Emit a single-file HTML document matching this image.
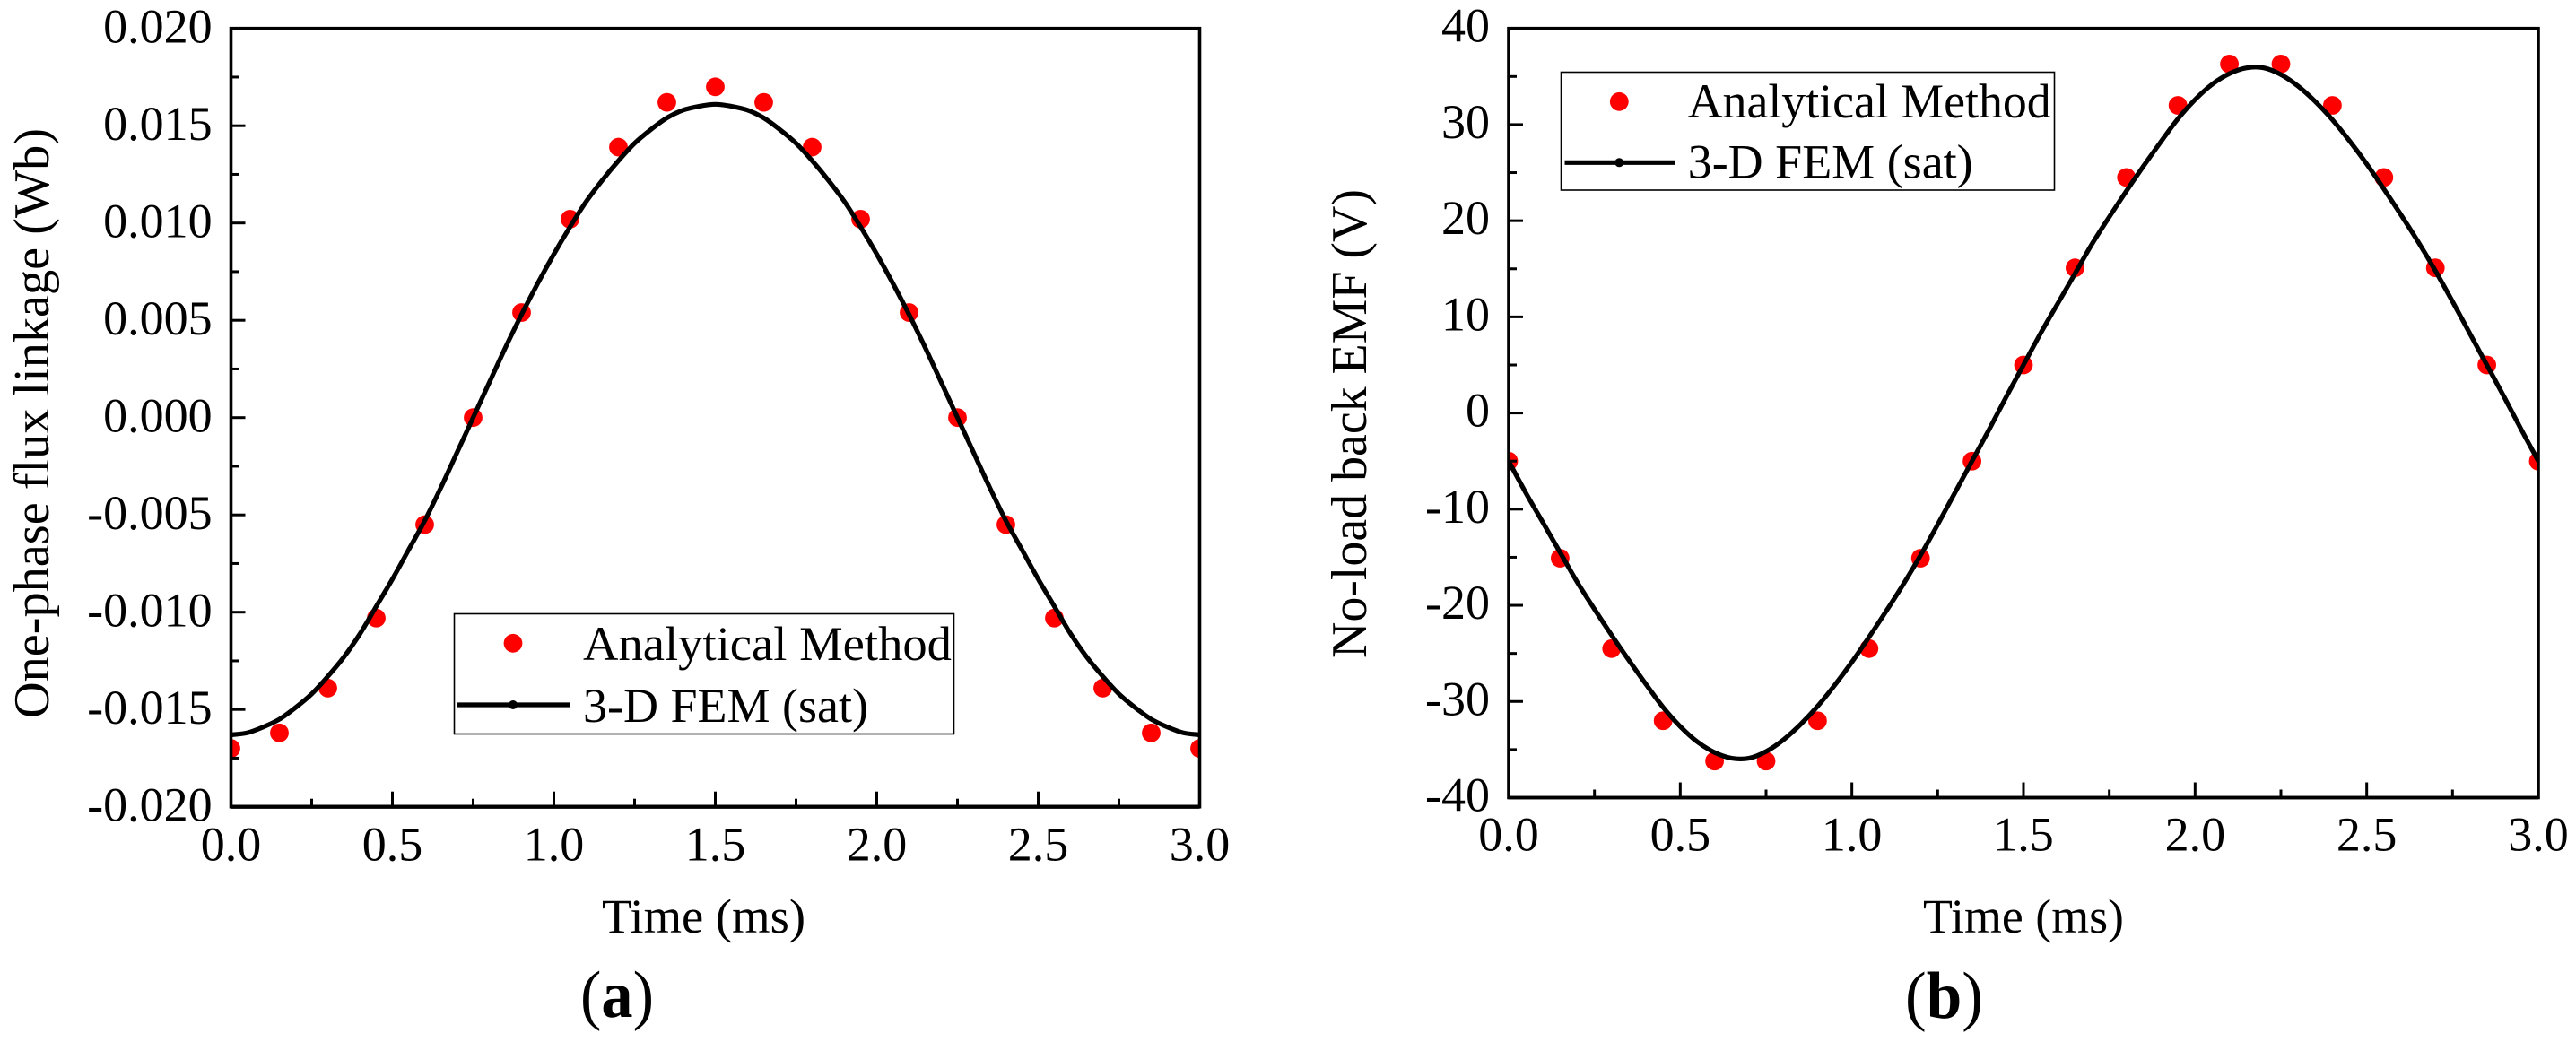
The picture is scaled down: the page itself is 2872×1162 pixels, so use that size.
<!DOCTYPE html>
<html lang="en">
<head>
<meta charset="utf-8">
<title>Flux linkage and back EMF charts</title>
<style>
  html, body { margin: 0; padding: 0; background: #fff; }
  svg { display: block; }
  text { font-family: "Liberation Serif", "Times New Roman", serif; fill: #000; }
</style>
</head>
<body>
<svg id="figure" xmlns="http://www.w3.org/2000/svg" width="2872" height="1162" viewBox="0 0 2872 1162">
  <rect x="0" y="0" width="2872" height="1162" fill="#fff"/>
  <g id="panel-a"></g>
  <g id="panel-b"></g>

  <text transform="translate(54 801) rotate(-90)" font-size="56" textLength="658" lengthAdjust="spacingAndGlyphs">One-phase flux linkage (Wb)</text>
  <text x="671" y="1040" font-size="54" textLength="227" lengthAdjust="spacingAndGlyphs">Time (ms)</text>
  <text x="647" y="1134" font-size="74" textLength="82" lengthAdjust="spacingAndGlyphs">(<tspan font-weight="bold">a</tspan>)</text>

  <g>
    <rect x="506.5" y="684.5" width="557" height="134" fill="#fff" stroke="#000" stroke-width="1.6"/>
    <circle cx="572" cy="717.3" r="10.4" fill="#f00"/>
    <text x="650" y="736" font-size="54" textLength="411" lengthAdjust="spacingAndGlyphs">Analytical Method</text>
    <line x1="510" y1="786" x2="635" y2="786" stroke="#000" stroke-width="5.2"/>
    <circle cx="572" cy="786" r="5" fill="#000"/>
    <text x="650" y="805" font-size="54">3-D FEM (sat)</text>
  </g>

  <text transform="translate(1523 734) rotate(-90)" font-size="56" textLength="523" lengthAdjust="spacingAndGlyphs">No-load back EMF (V)</text>
  <text x="2144" y="1040" font-size="54" textLength="224" lengthAdjust="spacingAndGlyphs">Time (ms)</text>
  <text x="2124" y="1135" font-size="74" textLength="87" lengthAdjust="spacingAndGlyphs">(<tspan font-weight="bold">b</tspan>)</text>

  <g>
    <rect x="1740.5" y="80.5" width="550" height="131.5" fill="#fff" stroke="#000" stroke-width="1.6"/>
    <circle cx="1805.3" cy="113.3" r="10.4" fill="#f00"/>
    <text x="1881.7" y="131" font-size="54" textLength="405" lengthAdjust="spacingAndGlyphs">Analytical Method</text>
    <line x1="1744.5" y1="181.3" x2="1868" y2="181.3" stroke="#000" stroke-width="5.2"/>
    <circle cx="1805.3" cy="181.3" r="5" fill="#000"/>
    <text x="1881.7" y="198.7" font-size="54">3-D FEM (sat)</text>
  </g>
</svg>

<script>
// ---- shared x axis ----
var xTicks = [0, 0.5, 1, 1.5, 2, 2.5, 3];
var xTickLabels = ["0.0", "0.5", "1.0", "1.5", "2.0", "2.5", "3.0"];
var xDots = [0, 0.15, 0.3, 0.45, 0.6, 0.75, 0.9, 1.05, 1.2, 1.35, 1.5, 1.65, 1.8, 1.95, 2.1, 2.25, 2.4, 2.55, 2.7, 2.85, 3];
var xLine = [0, 0.05, 0.1, 0.15, 0.2, 0.25, 0.3, 0.35, 0.4, 0.45, 0.5, 0.55, 0.6, 0.65, 0.7, 0.75, 0.8, 0.85, 0.9, 0.95,
             1, 1.05, 1.1, 1.15, 1.2, 1.25, 1.3, 1.35, 1.4, 1.45, 1.5, 1.55, 1.6, 1.65, 1.7, 1.75, 1.8, 1.85, 1.9, 1.95,
             2, 2.05, 2.1, 2.15, 2.2, 2.25, 2.3, 2.35, 2.4, 2.45, 2.5, 2.55, 2.6, 2.65, 2.7, 2.75, 2.8, 2.85, 2.9, 2.95, 3];

// ---- panel a: flux linkage ----
var yTicksA = [0.02, 0.015, 0.01, 0.005, 0, -0.005, -0.01, -0.015, -0.02];
var yTickLabelsA = ["0.020", "0.015", "0.010", "0.005", "0.000", "-0.005", "-0.010", "-0.015", "-0.020"];
var analyticalA = [-0.017, -0.0162, -0.0139, -0.0103, -0.0055, 0, 0.0054, 0.0102, 0.0139, 0.0162, 0.017,
                   0.0162, 0.0139, 0.0102, 0.0054, 0, -0.0055, -0.0103, -0.0139, -0.0162, -0.017];
var femA = [-0.0163, -0.0162, -0.0159, -0.0155, -0.0149, -0.0142, -0.0133, -0.0123, -0.0111, -0.0097, -0.0083, -0.0068, -0.0053, -0.0036, -0.0018,
            0, 0.0018, 0.0036, 0.0053, 0.0069, 0.0084, 0.0098, 0.0111, 0.0122, 0.0132, 0.0141, 0.0148, 0.0154, 0.0158, 0.016,
            0.0161,
            0.016, 0.0158, 0.0154, 0.0148, 0.0141, 0.0132, 0.0122, 0.0111, 0.0098, 0.0084, 0.0069, 0.0053, 0.0036, 0.0018,
            0, -0.0018, -0.0036, -0.0053, -0.0068, -0.0083, -0.0097, -0.0111, -0.0123, -0.0133, -0.0142, -0.0149, -0.0155, -0.0159, -0.0162, -0.0163];

// ---- panel b: back EMF ----
var yTicksB = [40, 30, 20, 10, 0, -10, -20, -30, -40];
var yTickLabelsB = ["40", "30", "20", "10", "0", "-10", "-20", "-30", "-40"];
var analyticalB = [-5, -15.1, -24.5, -32, -36.2, -36.2, -32, -24.5, -15.1, -5, 5,
                   15.1, 24.5, 32, 36.3, 36.3, 32, 24.5, 15.1, 5, -5];
var femB = [-5, -8.3, -11.4, -14.5, -17.6, -20.4, -23.1, -25.7, -28.2, -30.6, -32.6, -34.2, -35.3, -35.9, -35.9,
            -35.2, -34, -32.4, -30.5, -28.3, -25.9, -23.3, -20.6, -17.8, -14.8, -11.6, -8.3, -5, -1.7, 1.7,
            5, 8.3, 11.4, 14.5, 17.6, 20.4, 23.1, 25.7, 28.2, 30.6, 32.6, 34.2, 35.3, 35.9, 35.9,
            35.2, 34, 32.4, 30.5, 28.3, 25.9, 23.3, 20.6, 17.8, 14.8, 11.6, 8.3, 5, 1.7, -1.7, -5];

var SVGNS = "http://www.w3.org/2000/svg";

function make(tag, parent, attrs) {
  var el = document.createElementNS(SVGNS, tag);
  for (var k in attrs) el.setAttribute(k, attrs[k]);
  parent.appendChild(el);
  return el;
}

function smoothPath(px) {
  var d = "M" + px[0][0].toFixed(2) + " " + px[0][1].toFixed(2);
  for (var i = 0; i < px.length - 1; i++) {
    var p0 = px[Math.max(0, i - 1)], p1 = px[i], p2 = px[i + 1], p3 = px[Math.min(px.length - 1, i + 2)];
    d += "C" + (p1[0] + (p2[0] - p0[0]) / 6).toFixed(2) + " " + (p1[1] + (p2[1] - p0[1]) / 6).toFixed(2) + " " +
         (p2[0] - (p3[0] - p1[0]) / 6).toFixed(2) + " " + (p2[1] - (p3[1] - p1[1]) / 6).toFixed(2) + " " +
         p2[0].toFixed(2) + " " + p2[1].toFixed(2);
  }
  return d;
}

function drawPanel(g, id, box, yTicks, yLabels, dots, line) {
  var yMax = yTicks[0], yMin = yTicks[yTicks.length - 1];
  function sx(v) { return box.left + (v - 0) / 3 * (box.right - box.left); }
  function sy(v) { return box.top + (yMax - v) / (yMax - yMin) * (box.bottom - box.top); }

  var defs = make("defs", g, {});
  var clip = make("clipPath", defs, { id: "clip-" + id });
  make("rect", clip, { x: box.left, y: box.top, width: box.right - box.left, height: box.bottom - box.top });

  var dotGroup = make("g", g, { "clip-path": "url(#clip-" + id + ")" });
  
  
  for (var i = 0; i < dots.length; i++) {
    var c = make("circle", dotGroup, { cx: sx(xDots[i]), cy: sy(dots[i]), r: 10.4, fill: "#f00" });
    
    
  }

  var px = [];
  for (var j = 0; j < line.length; j++) px.push([sx(xLine[j]), sy(line[j])]);
  var curve = make("path", g, { d: smoothPath(px), fill: "none", stroke: "#000", "stroke-width": 5.2, "clip-path": "url(#clip-" + id + ")" });
  
  

  // y ticks and labels
  for (var a = 0; a < yTicks.length; a++) {
    var yy = sy(yTicks[a]);
    var t = make("line", g, { x1: box.left, y1: yy, x2: box.left + 16, y2: yy, stroke: "#000", "stroke-width": 3 });
    
    
    if (a < yTicks.length - 1) {
      var my = sy((yTicks[a] + yTicks[a + 1]) / 2);
      var m = make("line", g, { x1: box.left, y1: my, x2: box.left + 9, y2: my, stroke: "#000", "stroke-width": 3 });
      
      
    }
    var lab = make("text", g, { x: box.yLabelRight, y: yy + box.yLabelDrop, "font-size": 54, "text-anchor": "end" });
    
    
    lab.textContent = yLabels[a];
  }

  // x ticks and labels
  for (var b = 0; b < xTicks.length; b++) {
    var xx = sx(xTicks[b]);
    var xt = make("line", g, { x1: xx, y1: box.bottom, x2: xx, y2: box.bottom - 17, stroke: "#000", "stroke-width": 3 });
    
    
    if (b < xTicks.length - 1) {
      var mx = sx((xTicks[b] + xTicks[b + 1]) / 2);
      var xm = make("line", g, { x1: mx, y1: box.bottom, x2: mx, y2: box.bottom - 9, stroke: "#000", "stroke-width": 3 });
      
      
    }
    var xl = make("text", g, { x: xx, y: box.xLabelBase, "font-size": 54, "text-anchor": "middle" });
    
    
    xl.textContent = xTickLabels[b];
  }

  var frame = make("rect", g, { x: box.left, y: box.top, width: box.right - box.left, height: box.bottom - box.top, fill: "none", stroke: "#000", "stroke-width": 3.6 });
  
  

  var base = make("line", g, { x1: box.left, y1: box.bottom, x2: box.right, y2: box.bottom, stroke: "#000", "stroke-width": box.baseWidth });
  
  
}

drawPanel(document.getElementById("panel-a"), "a",
  { left: 257.5, right: 1337.5, top: 31.7, bottom: 899.7, yLabelRight: 236.6, yLabelDrop: 15.8, xLabelBase: 959.5, baseWidth: 4.4 },
  yTicksA, yTickLabelsA, analyticalA, femA);

drawPanel(document.getElementById("panel-b"), "b",
  { left: 1682, right: 2830, top: 31.7, bottom: 889.5, yLabelRight: 1661, yLabelDrop: 15, xLabelBase: 948.4, baseWidth: 3.8 },
  yTicksB, yTickLabelsB, analyticalB, femB);
</script>
</body>
</html>
